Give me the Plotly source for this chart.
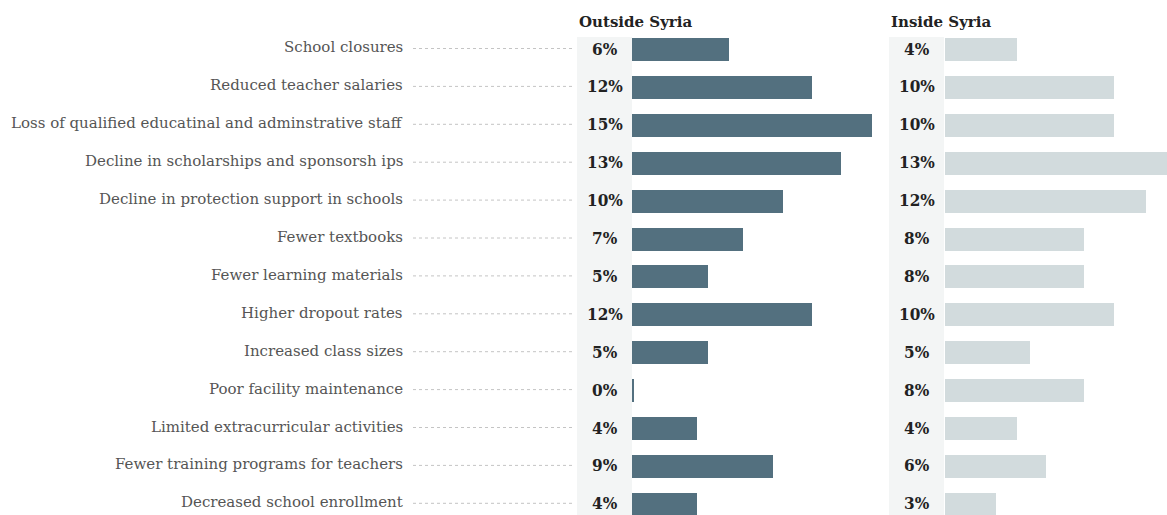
import plotly.graph_objects as go

W, H = 1167, 515

categories = [
    "School closures",
    "Reduced teacher salaries",
    "Loss of qualified educatinal and adminstrative staff",
    "Decline in scholarships and sponsorsh ips",
    "Decline in protection support in schools",
    "Fewer textbooks",
    "Fewer learning materials",
    "Higher dropout rates",
    "Increased class sizes",
    "Poor facility maintenance",
    "Limited extracurricular activities",
    "Fewer training programs for teachers",
    "Decreased school enrollment",
]
# bar lengths (estimated, in %) and printed labels (%)
outside_values = [6.06, 11.25, 15.0, 13.06, 9.44, 6.94, 4.75, 11.25, 4.75, 0.07, 4.06, 8.81, 4.06]
outside_labels = [6, 12, 15, 13, 10, 7, 5, 12, 5, 0, 4, 9, 4]
inside_values = [4.22, 9.9, 9.9, 13.0, 11.77, 8.14, 8.14, 9.9, 4.98, 8.14, 4.22, 5.91, 2.99]
inside_labels = [4, 10, 10, 13, 12, 8, 8, 10, 5, 8, 4, 6, 3]
panel_titles = ["Outside Syria", "Inside Syria"]

OUT_COLOR = "#53707f"
IN_COLOR = "#d2dbdd"
BAND_COLOR = "#f3f5f5"

# layout geometry in pixels
ROW0, PITCH, BAR_H = 49.5, 37.9, 23
out_band = (577, 632)
in_band = (889, 944)
out_axis = (632, 872)
in_axis = (945, 1167)

def px(x):
    return x / W

def py(y):
    return 1 - y / H

rows = list(range(len(categories)))
y_top = -ROW0 / PITCH
y_bot = (len(categories) - 1) + (H - (ROW0 + PITCH * (len(categories) - 1))) / PITCH

fig = go.Figure()
fig.add_trace(go.Bar(
    x=outside_values, y=rows, orientation="h", xaxis="x", yaxis="y",
    marker=dict(color=OUT_COLOR, line=dict(width=0)), width=BAR_H / PITCH,
    hoverinfo="skip", showlegend=False,
))
fig.add_trace(go.Bar(
    x=inside_values, y=rows, orientation="h", xaxis="x2", yaxis="y",
    marker=dict(color=IN_COLOR, line=dict(width=0)), width=BAR_H / PITCH,
    hoverinfo="skip", showlegend=False,
))

shapes = []
annotations = []
for (b0, b1) in (out_band, in_band):
    shapes.append(dict(type="rect", xref="paper", yref="paper",
                       x0=px(b0), x1=px(b1), y0=0, y1=py(37),
                       fillcolor=BAND_COLOR, line=dict(width=0), layer="below"))

label_font = dict(family="DejaVu Serif", size=15, color="#555555")
pct_font = dict(family="DejaVu Serif Condensed, DejaVu Serif", size=17, color="#222222")
title_font = dict(family="DejaVu Serif", size=15, color="#222222")

for i, cat in enumerate(categories):
    yc = ROW0 + PITCH * i
    annotations.append(dict(text=cat, xref="paper", yref="paper",
                            x=px(405), y=py(yc - 2), xanchor="right", yanchor="middle",
                            showarrow=False, font=label_font))
    shapes.append(dict(type="line", xref="paper", yref="paper",
                       x0=px(413), x1=px(574), y0=py(yc - 1), y1=py(yc - 1),
                       line=dict(color="#c4c4c4", width=1, dash="dot")))
    annotations.append(dict(text=f"<b>{outside_labels[i]}%</b>", xref="paper", yref="paper",
                            x=px((out_band[0] + out_band[1]) / 2), y=py(yc - 1),
                            xanchor="center", yanchor="middle", showarrow=False, font=pct_font))
    annotations.append(dict(text=f"<b>{inside_labels[i]}%</b>", xref="paper", yref="paper",
                            x=px((in_band[0] + in_band[1]) / 2), y=py(yc - 1),
                            xanchor="center", yanchor="middle", showarrow=False, font=pct_font))

annotations.append(dict(text=f"<b>{panel_titles[0]}</b>", xref="paper", yref="paper",
                        x=px(out_band[0]), y=py(22), xanchor="left", yanchor="middle",
                        showarrow=False, font=title_font))
annotations.append(dict(text=f"<b>{panel_titles[1]}</b>", xref="paper", yref="paper",
                        x=px(in_band[0]), y=py(22), xanchor="left", yanchor="middle",
                        showarrow=False, font=title_font))

fig.update_layout(
    width=W, height=H,
    margin=dict(l=0, r=0, t=0, b=0),
    paper_bgcolor="white", plot_bgcolor="rgba(0,0,0,0)",
    bargap=0,
    xaxis=dict(domain=[px(out_axis[0]), px(out_axis[1])], range=[0, 15],
               visible=False, fixedrange=True),
    xaxis2=dict(domain=[px(in_axis[0]), px(in_axis[1])], range=[0, 13],
                visible=False, fixedrange=True, anchor="y"),
    yaxis=dict(domain=[0, 1], range=[y_bot, y_top], visible=False, fixedrange=True),
    shapes=shapes,
    annotations=annotations,
)

fig.write_html("out.html", config={"displayModeBar": False})
